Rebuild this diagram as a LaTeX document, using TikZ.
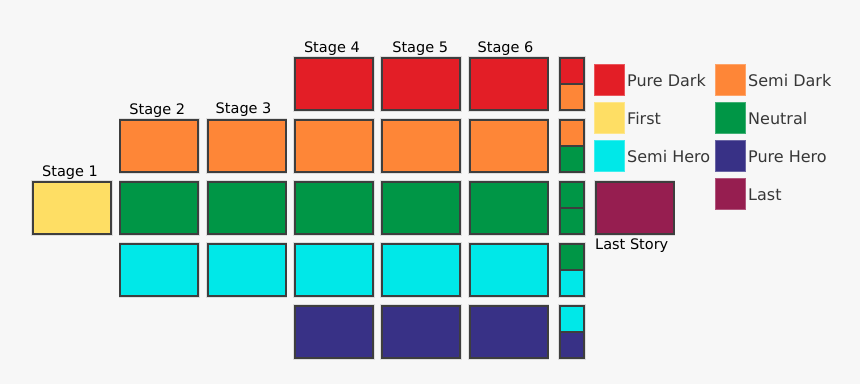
\documentclass[tikz,border=0pt]{standalone}
\usepackage{fontspec}
\setmainfont{DejaVu Sans}
\usetikzlibrary{calc}
\definecolor{bg}{RGB}{247,247,247}
\definecolor{boxline}{RGB}{62,62,62}
\definecolor{halo}{RGB}{222,222,222}
\definecolor{cRed}{RGB}{227,30,38}
\definecolor{cOrange}{RGB}{254,134,55}
\definecolor{cYellow}{RGB}{254,222,100}
\definecolor{cGreen}{RGB}{0,150,70}
\definecolor{cCyan}{RGB}{0,232,232}
\definecolor{cNavy}{RGB}{56,49,134}
\definecolor{cMaroon}{RGB}{150,30,80}
\definecolor{legtext}{RGB}{55,55,55}
\begin{document}
\begin{tikzpicture}[x=1pt,y=-1pt,
  box/.style={draw=boxline, line width=2pt, inner sep=0pt, outer sep=0pt,
    minimum width=78pt, minimum height=52pt,
    preaction={draw=halo, line width=3.6pt}},
  half/.style={draw=boxline, line width=2pt, inner sep=0pt, outer sep=0pt,
    minimum width=24pt, minimum height=26pt},
  halfhalo/.style={draw=halo, line width=3.6pt},
  swatch/.style={draw=#1!75!white, fill=#1, line width=0.8pt, inner sep=0pt,
    minimum width=30pt, minimum height=31pt},
  stagelbl/.style={font=\fontsize{14.5}{16}\selectfont, text=black, inner sep=0pt, anchor=base},
  leglbl/.style={font=\fontsize{16}{18}\selectfont, text=legtext, inner sep=0pt, anchor=west}]
\fill[bg] (0,0) rectangle (860,384);
\useasboundingbox (0,0) rectangle (860,384);

% Stage 1
\node[box, fill=cYellow] (s1r3) at (72,208) {};
% Stages 2 and 3
\foreach \s/\x in {2/159.3, 3/246.6} {
  \node[box, fill=cOrange] (s\s r2) at (\x,146) {};
  \node[box, fill=cGreen]  (s\s r3) at (\x,208) {};
  \node[box, fill=cCyan]   (s\s r4) at (\x,270) {};
}
% Stages 4 to 6
\foreach \s/\x in {4/333.9, 5/421.2, 6/508.5} {
  \node[box, fill=cRed]    (s\s r1) at (\x,84) {};
  \node[box, fill=cOrange] (s\s r2) at (\x,146) {};
  \node[box, fill=cGreen]  (s\s r3) at (\x,208) {};
  \node[box, fill=cCyan]   (s\s r4) at (\x,270) {};
  \node[box, fill=cNavy]   (s\s r5) at (\x,332) {};
}
% small split column
\foreach \r/\y/\ca/\cb in {1/57/cRed/cOrange, 2/119/cOrange/cGreen, 3/181/cGreen/cGreen, 4/243/cGreen/cCyan, 5/305/cCyan/cNavy} {
  \path[halfhalo] (560,\y+1) rectangle (584,\y+53);
  \node[half, fill=\ca] (t\r a) at (572,\y+14) {};
  \node[half, fill=\cb] (t\r b) at (572,\y+40) {};
}

% stage labels
\node[stagelbl] (l1) at ($(s1r3.north)+(-2,-6)$) {Stage 1};
\node[stagelbl] (l2) at ($(s2r2.north)+(-2,-6)$) {Stage 2};
\node[stagelbl] (l3) at ($(s3r2.north)+(-3,-6.5)$) {Stage 3};
\node[stagelbl] (l4) at ($(s4r1.north)+(-2,-6)$) {Stage 4};
\node[stagelbl] (l5) at ($(s5r1.north)+(-1,-6)$) {Stage 5};
\node[stagelbl] (l6) at ($(s6r1.north)+(-3,-6)$) {Stage 6};

% last story
\node[box, fill=cMaroon] (last) at (634.5,208) {};
\node[stagelbl, anchor=base west] (lastlbl) at (595,249) {Last Story};

% legend
\node[swatch=cRed]    (k1) at (609,80) {};
\node[swatch=cYellow] (k2) at (609,118) {};
\node[swatch=cCyan]   (k3) at (609,156) {};
\node[swatch=cOrange] (k4) at (730,80) {};
\node[swatch=cGreen]  (k5) at (730,118) {};
\node[swatch=cNavy]   (k6) at (730,156) {};
\node[swatch=cMaroon] (k7) at (730,194) {};
\node[leglbl] (kt1) at (627,81) {Pure Dark};
\node[leglbl] (kt2) at (627,119) {First};
\node[leglbl] (kt3) at (627,157) {Semi Hero};
\node[leglbl] (kt4) at (748,81) {Semi Dark};
\node[leglbl] (kt5) at (748,119) {Neutral};
\node[leglbl] (kt6) at (748,157) {Pure Hero};
\node[leglbl] (kt7) at (748,195) {Last};
\end{tikzpicture}
\end{document}
